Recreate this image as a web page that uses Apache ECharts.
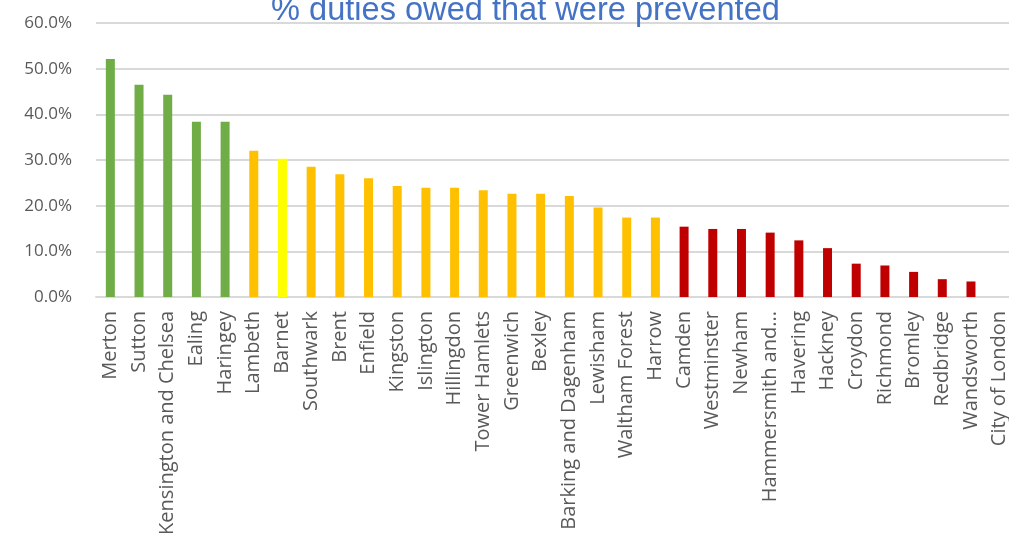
<!DOCTYPE html>
<html>
<head>
<meta charset="utf-8">
<script src="https://cdn.jsdelivr.net/npm/echarts@6/dist/echarts.min.js"></script>
<style>
html,body{margin:0;padding:0;background:#fff;}
#chart{width:1009px;height:534px;}
</style>
</head>
<body>
<div id="chart"></div>
<script>
var titleText = "% duties owed that were prevented";
var boroughs = ["Merton","Sutton","Kensington and Chelsea","Ealing","Haringey","Lambeth","Barnet","Southwark","Brent","Enfield","Kingston","Islington","Hillingdon","Tower Hamlets","Greenwich","Bexley","Barking and Dagenham","Lewisham","Waltham Forest","Harrow","Camden","Westminster","Newham","Hammersmith and...","Havering","Hackney","Croydon","Richmond","Bromley","Redbridge","Wandsworth","City of London"];
var prevented = [52.1,46.5,44.3,38.4,38.4,32.0,30.3,28.5,26.9,26.0,24.3,23.9,23.9,23.4,22.6,22.6,22.1,19.6,17.4,17.4,15.4,14.9,14.9,14.1,12.4,10.7,7.3,6.9,5.5,3.9,3.4,0];
var band = ["green","green","green","green","green","orange","yellow","orange","orange","orange","orange","orange","orange","orange","orange","orange","orange","orange","orange","orange","red","red","red","red","red","red","red","red","red","red","red","red"];
var bandColors = {green:"#70AD47", orange:"#FFC000", yellow:"#FFFF00", red:"#C00000"};
var yTicks = [0,10,20,30,40,50,60];

var chart = echarts.init(document.getElementById('chart'));
chart.setOption({
  animation:false,
  title:{
    text:titleText,
    left:266,
    top:-10,
    textStyle:{color:'#4472C4',fontFamily:'Liberation Sans',fontWeight:'normal',fontSize:32.6}
  },
  grid:{left:96,top:23,bottom:237,width:918,containLabel:false,outerBoundsMode:'none'},
  xAxis:{
    type:'category',
    data:boroughs,
    axisLine:{lineStyle:{color:'#d9d9d9',width:2}},
    axisTick:{show:false},
    axisLabel:{rotate:90,interval:0,margin:14,color:'#595959',fontFamily:'Open Sans',fontSize:20}
  },
  yAxis:{
    type:'value',
    min:yTicks[0],
    max:yTicks[yTicks.length-1],
    interval:10,
    axisLine:{show:false},
    axisTick:{show:false},
    splitLine:{lineStyle:{color:'#d9d9d9',width:2}},
    axisLabel:{margin:24,color:'#595959',fontFamily:'Open Sans',fontSize:17,formatter:function(v){return v.toFixed(1)+'%';}}
  },
  series:[{
    type:'bar',
    barWidth:9,
    data:prevented.map(function(v,i){return {value:v,itemStyle:{color:bandColors[band[i]]}};})
  }]
});
</script>
</body>
</html>
